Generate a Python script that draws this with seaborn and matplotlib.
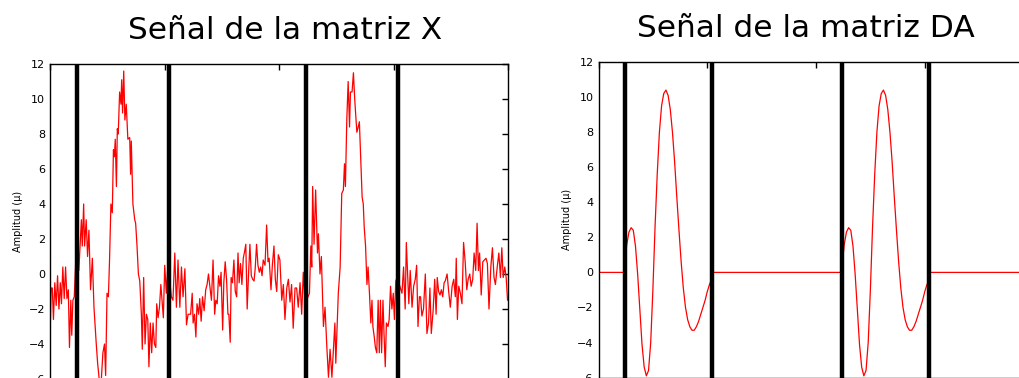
import numpy as np
import pandas as pd
import matplotlib
matplotlib.use("Agg")
import matplotlib.pyplot as plt
import seaborn as sns

# Señal de la matriz X (muestra, amplitud)
x_samples = [0, 1, 5, 10, 15, 21, 27, 33, 39, 45, 50, 56, 62, 68, 74, 80, 85, 91, 95, 100,
             106, 112, 126, 137, 141, 147, 151, 158, 164, 170, 177, 185, 192, 202, 208, 214,
             222, 231, 238, 243, 249, 255, 260, 266, 272, 277, 281, 285, 290, 294, 298, 304,
             310, 313, 317, 322, 327, 333, 340, 348, 352, 355, 362, 370, 374, 380, 386, 392,
             399, 403, 409, 415, 421, 427, 432, 438, 444, 450, 456, 462, 466, 472, 478, 484,
             489, 495, 501, 508, 515, 530, 537, 545, 552, 559, 567, 574, 581, 589, 596, 603,
             614, 621, 625, 631, 637, 642, 649, 654, 660, 666, 673, 680, 686, 692, 698, 705,
             712, 719, 724, 730, 736, 742, 747, 754, 759, 765, 771, 777, 781, 787, 791, 797,
             803, 809, 815, 821, 826, 832, 838, 844, 850, 855, 861, 867, 873, 879, 885, 891,
             896, 902, 908, 914, 920, 926, 931, 939, 946, 952, 957, 965, 971, 978, 984, 990,
             997, 1004, 1012, 1019, 1026, 1034, 1041, 1048, 1055, 1062, 1070, 1077, 1084, 1092,
             1099, 1106, 1114, 1133, 1139, 1143, 1147, 1153, 1160, 1168, 1172, 1179, 1185, 1194,
             1201, 1209, 1216, 1223, 1231, 1238, 1244, 1248, 1252, 1259, 1267, 1274, 1281, 1286,
             1290, 1296, 1302, 1308, 1312, 1319, 1325, 1331, 1340, 1346, 1351, 1357, 1363, 1368,
             1372, 1378, 1384, 1389, 1395, 1401, 1406, 1410, 1416, 1421, 1427, 1433, 1438, 1443,
             1448, 1454, 1458, 1464, 1469, 1476, 1481, 1487, 1493, 1499, 1504, 1510, 1516, 1537,
             1544, 1551, 1556, 1561, 1567, 1573, 1581, 1588, 1595, 1601, 1607, 1613, 1618, 1624,
             1631, 1639, 1646, 1653, 1659, 1665, 1673, 1680, 1686, 1691, 1697, 1703, 1709, 1715,
             1721, 1726, 1734, 1741, 1748, 1756, 1763, 1770, 1774, 1779, 1785, 1792, 1799, 1806,
             1813, 1820, 1826, 1833, 1839, 1846, 1852, 1859, 1865, 1871, 1876, 1883, 1890, 1897,
             1904, 1910, 1917, 1925, 1932, 1939, 1945, 1953, 1960, 1967, 1973, 1979, 1986, 1992,
             1998]
x_amplitude = [-0.5, -3.2, -0.8, -0.8, -2.6, -0.5, -1.8, -0.1, -2.0, -0.5, -1.7, 0.4, -1.4, 0.4,
               -1.4, -0.9, -4.2, -1.5, -3.5, -1.5, -1.3, 0.6, 0.2, 3.1, 1.6, 4.0, 1.6, 3.1, 1.0,
               2.5, -0.9, 0.9, -1.9, -4.0, -5.1, -5.9, -6.5, -4.5, -4.0, -5.8, -1.1, -1.3, 0.8,
               4.0, 3.5, 7.1, 6.7, 7.7, 5.0, 8.3, 8.0, 10.4, 9.7, 11.1, 9.2, 11.6, 8.8, 9.7, 7.7,
               7.8, 5.7, 7.6, 4.0, 3.1, 2.9, 1.6, 0.0, -0.4, -2.3, -4.3, -0.2, -4.0, -2.3, -2.6,
               -5.3, -2.8, -4.5, -2.8, -4.0, -4.2, -1.7, -2.5, -1.9, -0.6, -1.5, -2.5, 0.5, -1.1,
               0.6, -1.3, -1.5, 1.2, -1.9, 0.8, -1.9, 0.4, -1.3, 0.3, -2.9, -2.3, -2.3, -1.1,
               -2.8, -2.3, -3.6, -1.7, -2.3, -1.4, -2.7, -1.3, -2.1, -0.9, -0.6, 0.0, -0.7, -1.5,
               0.8, -2.3, -1.5, -1.7, -0.1, -0.7, 0.1, -3.2, -0.5, 0.7, -0.3, -2.3, -2.3, -3.9,
               -0.2, -0.5, 0.8, -1.0, -1.3, 1.2, -0.5, 0.6, -0.6, 0.9, 1.3, 1.7, -2.0, 0.0, 1.7,
               -0.1, -0.3, -0.4, 0.3, 1.7, 0.5, 0.1, 0.4, -0.1, 0.8, 0.5, 2.8, 0.7, 0.9, -0.9,
               0.5, 1.6, -0.3, -1.0, 1.1, 0.8, -1.5, -0.6, -2.6, -0.8, -0.3, -1.6, -0.6, -3.1,
               -0.8, -0.8, -1.9, -0.5, -2.3, 0.1, -1.7, -1.1, 1.6, 0.4, 5.0, 1.7, 4.8, 1.2, 2.3,
               0.0, 1.0, -3.0, -1.9, -4.2, -5.9, -4.3, -5.9, -4.2, -2.8, -5.1, -3.6, -1.1, 0.4,
               4.6, 4.8, 6.3, 5.0, 8.8, 11.0, 8.4, 10.4, 10.4, 11.5, 9.9, 8.1, 8.4, 8.7, 6.5,
               4.4, 4.0, 2.7, 1.6, -0.6, 0.4, -1.1, -2.8, -1.5, -3.0, -3.6, -4.2, -4.5, -1.5,
               -4.5, -1.5, -4.5, -1.5, -3.2, -5.3, -2.8, -3.0, -2.6, -0.7, -2.0, -1.1, -2.6,
               -0.4, -0.2, -1.1, 0.4, -2.0, 1.8, 0.2, -1.7, 0.2, -1.9, -0.7, -0.3, 0.5, -3.0,
               -1.3, -1.3, -2.4, -2.0, 0.0, -3.4, -2.8, -0.8, -3.4, -2.1, -0.3, -2.3, -0.2,
               -1.0, -1.2, -0.9, -1.3, -0.5, -0.4, 0.0, -1.0, -1.9, -0.7, -0.3, -1.3, 0.9,
               -2.6, -0.7, -1.1, -1.7, 1.8, 0.7, -0.9, -0.3, 0.0, -0.7, -0.3, 1.2, 0.2, 2.9,
               0.2, 1.2, -1.2, 0.7, 0.8, 0.9, 0.6, -2.0, 0.4, 1.5, -0.2, -0.6, 0.4, 1.2, -0.2,
               1.5, -0.2, 0.4, -0.2, -1.5]

# Señal de la matriz DA: forma de onda dentro de cada ventana (desplazamiento, amplitud)
da_offset = [0, 10, 20, 30, 40, 50, 60, 70, 80, 90, 100, 110, 120, 130, 140, 150, 160, 170,
             180, 190, 200, 210, 220, 230, 240, 250, 260, 270, 280, 290, 300, 310, 320, 330,
             340, 350, 360, 370, 380, 390, 400]
da_wave = [0.4, 1.6, 2.3, 2.55, 2.4, 1.5, -0.1, -2.1, -4.1, -5.4, -5.9, -5.6, -4.0, -1.0,
           2.6, 5.6, 8.0, 9.5, 10.2, 10.4, 10.1, 9.3, 8.0, 6.3, 4.3, 2.4, 0.6, -0.9, -2.0,
           -2.7, -3.1, -3.3, -3.3, -3.1, -2.8, -2.4, -2.0, -1.6, -1.1, -0.7, -0.4]

# inicio y fin de las ventanas (lineas negras)
window_starts = [120, 1120]
window_edges = [120, 520, 1120, 1520]
n_samples = 2000

titles = ["Señal de la matriz X", "Señal de la matriz DA"]
ylabel = "Amplitud (μ)"
yticks = [-6, -4, -2, 0, 2, 4, 6, 8, 10, 12]
xticks = [0, 500, 1000, 1500, 2000]

# armar la serie DA: cero fuera de las ventanas
da_x, da_y = [0], [0.0]
for start in window_starts:
    da_x += [start] + [start + o for o in da_offset] + [start + da_offset[-1]]
    da_y += [0.0] + da_wave + [0.0]
da_x.append(n_samples)
da_y.append(0.0)

df_x = pd.DataFrame({"t": x_samples, "amp": x_amplitude})
df_da = pd.DataFrame({"t": da_x, "amp": da_y})

sns.set_style("white")
plt.rcParams["font.family"] = ["DejaVu Sans"]
plt.rcParams.update({
    "xtick.direction": "in", "ytick.direction": "in",
    "xtick.top": True, "ytick.right": True,
    "xtick.major.size": 4, "ytick.major.size": 4,
    "axes.edgecolor": "black", "axes.linewidth": 1.0,
    "text.color": "black", "axes.labelcolor": "black",
})

fig = plt.figure(figsize=(10.19, 3.78), dpi=100)
ax1 = fig.add_axes([50 / 1019, -1 / 378, 458 / 1019, 315 / 378])
ax2 = fig.add_axes([598.5 / 1019, 0.4 / 378, 435 / 1019, 315.6 / 378])

for ax, df, title, tx in [(ax1, df_x, titles[0], 0.513), (ax2, df_da, titles[1], 0.477)]:
    sns.lineplot(data=df, x="t", y="amp", ax=ax, color="red", linewidth=0.9,
                 estimator=None, sort=False)
    for e in window_edges:
        ax.axvline(e, color="black", linewidth=3.2)
    ax.set_xlim(0, n_samples)
    ax.set_ylim(-6, 12)
    ax.set_yticks(yticks)
    ax.set_xticks(xticks)
    ax.set_xticklabels([])
    ax.tick_params(labelsize=8, colors="black", width=1)
    ax.set_xlabel("")
    ax.set_ylabel(ylabel, fontsize=7, color="black")
    ax.set_title(title, fontsize=22.5, x=tx, pad=18, color="black")
    for s in ax.spines.values():
        s.set_visible(True)
        s.set_color("black")

fig.savefig("out.png", dpi=100)
